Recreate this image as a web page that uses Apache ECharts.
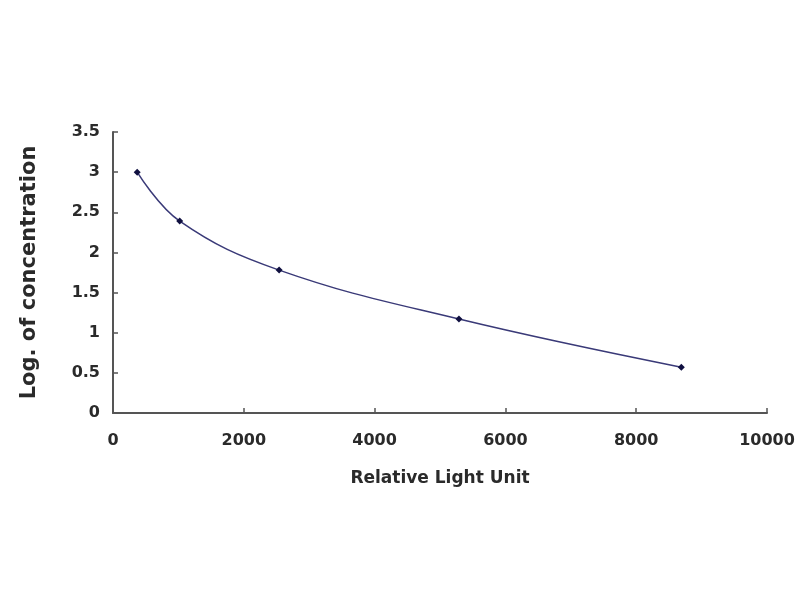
<!DOCTYPE html>
<html>
<head>
<meta charset="utf-8">
<script src="https://cdn.jsdelivr.net/npm/echarts@6/dist/echarts.min.js"></script>
<style>html,body{margin:0;padding:0;background:#fff;}#c{width:800px;height:600px;}</style>
</head>
<body>
<div id="c"></div>
<script>
var rlu = [370, 1020, 2540, 5290, 8690];
var logConc = [3.0, 2.39, 1.78, 1.17, 0.57];
var xTicks = [0, 2000, 4000, 6000, 8000, 10000];
var yTicks = [0, 0.5, 1, 1.5, 2, 2.5, 3, 3.5];

var chart = echarts.init(document.getElementById('c'));
var pts = rlu.map(function (x, i) { return [x, logConc[i]]; });
var font = 'DejaVu Sans';
chart.setOption({
  animation: false,
  backgroundColor: '#fff',
  grid: { left: 113, right: 33, top: 132, bottom: 187 },
  xAxis: {
    type: 'value', min: xTicks[0], max: xTicks[xTicks.length - 1], interval: 2000,
    name: 'Relative Light Unit', nameLocation: 'middle', nameGap: 57,
    nameTextStyle: { fontFamily: font, fontWeight: 'bold', fontSize: 17, color: '#2a2a2a' },
    axisLine: { lineStyle: { color: '#555', width: 2 } },
    axisTick: { inside: true, length: 5, lineStyle: { color: '#555', width: 1.5 } },
    axisLabel: { margin: 20, fontFamily: font, fontWeight: 'bold', fontSize: 16, color: '#2a2a2a',
      formatter: function (v) { return String(v); } },
    splitLine: { show: false }
  },
  yAxis: {
    type: 'value', min: yTicks[0], max: yTicks[yTicks.length - 1], interval: 0.5,
    name: 'Log. of concentration', nameLocation: 'middle', nameGap: 73,
    nameTextStyle: { fontFamily: font, fontWeight: 'bold', fontSize: 21, color: '#2a2a2a' },
    axisLine: { show: true, lineStyle: { color: '#555', width: 2 } },
    axisTick: { show: true, inside: true, length: 5, lineStyle: { color: '#555', width: 1.5 } },
    axisLabel: { margin: 13, fontFamily: font, fontWeight: 'bold', fontSize: 16, color: '#2a2a2a' },
    splitLine: { show: false }
  },
  series: [{
    type: 'line', data: pts, smooth: 0.4,
    symbol: 'diamond', symbolSize: 7,
    lineStyle: { color: '#3a3a78', width: 1.5 },
    itemStyle: { color: '#101040' }
  }]
});
</script>
</body>
</html>
